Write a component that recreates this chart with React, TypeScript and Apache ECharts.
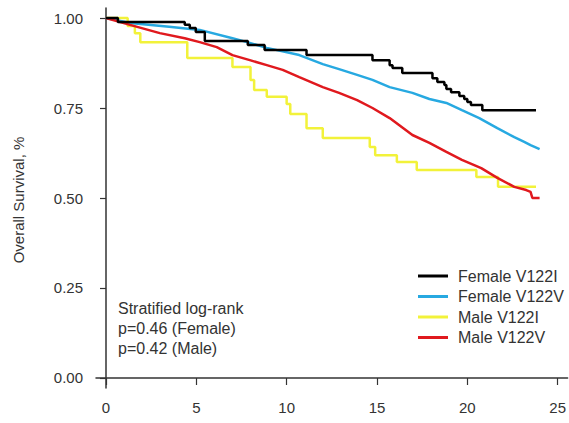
import { useEffect, useRef } from "react";
import * as echarts from "echarts";

// Series names (legend order)
const seriesNames = ["Female V122I", "Female V122V", "Male V122I", "Male V122V"];

// Female V122I (Kaplan-Meier steps)
const femaleV122ITime = [0, 0.66, 4.36, 4.64, 4.97, 5.47, 7.85, 8.78, 11.1, 14.75, 15.7, 15.86, 16.4, 18.07, 18.34, 18.73, 18.84, 19.1, 19.56, 19.83, 20.0, 20.2, 20.83, 23.8];
const femaleV122ISurv = [1.0, 0.989, 0.981, 0.972, 0.961, 0.936, 0.925, 0.911, 0.897, 0.883, 0.869, 0.861, 0.847, 0.833, 0.822, 0.814, 0.803, 0.794, 0.783, 0.775, 0.767, 0.758, 0.744, 0.744];

// Female V122V
const femaleV122VTime = [0, 1.33, 3.5, 5.19, 7.0, 7.96, 8.9, 10.7, 12.0, 12.9, 13.9, 14.75, 15.7, 16.96, 17.9, 18.84, 19.7, 20.66, 21.66, 22.6, 23.15, 23.5, 24.0];
const femaleV122VSurv = [1.0, 0.986, 0.976, 0.967, 0.944, 0.931, 0.917, 0.897, 0.872, 0.858, 0.842, 0.828, 0.808, 0.792, 0.775, 0.764, 0.744, 0.722, 0.694, 0.669, 0.656, 0.647, 0.636];

// Male V122I (Kaplan-Meier steps)
const maleV122ITime = [0, 1.2, 1.6, 1.9, 4.5, 7.0, 8.0, 8.2, 8.9, 10.0, 10.2, 11.1, 12.0, 14.6, 14.9, 16.1, 17.2, 20.5, 21.7, 23.8];
const maleV122ISurv = [1.0, 0.978, 0.958, 0.933, 0.889, 0.864, 0.828, 0.8, 0.781, 0.761, 0.733, 0.694, 0.667, 0.642, 0.619, 0.6, 0.578, 0.558, 0.531, 0.531];

// Male V122V
const maleV122VTime = [0, 1.33, 2.98, 4.36, 5.19, 6.13, 7.0, 7.96, 8.9, 9.78, 10.7, 12.0, 12.9, 13.9, 14.75, 15.7, 16.96, 17.9, 18.84, 19.7, 20.77, 21.66, 22.6, 23.26, 23.5, 23.6, 24.0];
const maleV122VSurv = [1.0, 0.981, 0.958, 0.944, 0.933, 0.919, 0.897, 0.883, 0.869, 0.856, 0.836, 0.808, 0.792, 0.772, 0.75, 0.722, 0.675, 0.653, 0.628, 0.606, 0.583, 0.556, 0.531, 0.522, 0.517, 0.5, 0.5];

// Axis ticks
const xTicks = [0, 5, 10, 15, 20, 25];
const yTicks = [0, 0.25, 0.5, 0.75, 1.0];

const annotationLines = ["Stratified log-rank", "p=0.46 (Female)", "p=0.42 (Male)"];
const yTitle = "Overall Survival, %";

const zip = (t: number[], s: number[]) => t.map((v, i) => [v, s[i]]);

const FONT = "Arial, 'Liberation Sans', sans-serif";

export default function App() {
  const ref = useRef<HTMLDivElement>(null);
  useEffect(() => {
    document.body.style.margin = "0";
    if (!ref.current) return;
    const chart = echarts.init(ref.current, null, { renderer: "svg" });
    const lineWidth = 2.5;
    chart.setOption({
      animation: false,
      backgroundColor: "#ffffff",
      grid: { left: 96, right: 0, top: 8, bottom: 35, containLabel: false },
      xAxis: {
        type: "value",
        min: -0.552,
        max: 25.55,
        axisLine: { show: true, lineStyle: { color: "#333", width: 1.5 } },
        axisTick: { show: true, length: 7, customValues: xTicks, lineStyle: { color: "#333", width: 1.2 } },
        axisLabel: {
          customValues: xTicks,
          formatter: (v: number) => String(v),
          fontSize: 15,
          fontFamily: FONT,
          color: "#333",
          margin: 12,
        },
        splitLine: { show: false },
      },
      yAxis: {
        type: "value",
        min: -0.0278,
        max: 1.0278,
        axisLine: { show: true, lineStyle: { color: "#333", width: 1.5 } },
        axisTick: { show: true, length: 6, customValues: yTicks, lineStyle: { color: "#333", width: 1.2 } },
        axisLabel: {
          customValues: yTicks,
          formatter: (v: number) => v.toFixed(2),
          fontSize: 15,
          fontFamily: FONT,
          color: "#333",
          margin: 13,
        },
        splitLine: { show: false },
      },
      legend: {
        orient: "vertical",
        left: 418,
        top: 268,
        padding: 0,
        icon: "rect",
        itemWidth: 30,
        itemHeight: 3,
        itemGap: 4.5,
        data: seriesNames,
        textStyle: { fontSize: 16, fontFamily: FONT, color: "#333", padding: [0, 0, 0, 5] },
      },
      graphic: [
        {
          type: "text",
          x: 18,
          y: 200,
          rotation: Math.PI / 2,
          style: {
            text: yTitle,
            fontSize: 15,
            fontFamily: FONT,
            fill: "#333",
            align: "center",
            verticalAlign: "middle",
          },
        },
        {
          type: "text",
          x: 118,
          y: 298,
          style: {
            text: annotationLines.join("\n"),
            fontSize: 16,
            lineHeight: 20,
            fontFamily: FONT,
            fill: "#333",
            align: "left",
            verticalAlign: "top",
          },
        },
      ],
      series: [
        {
          name: seriesNames[0],
          type: "line",
          step: "end",
          showSymbol: false,
          data: zip(femaleV122ITime, femaleV122ISurv),
          lineStyle: { color: "#000000", width: lineWidth },
          itemStyle: { color: "#000000" },
          z: 4,
        },
        {
          name: seriesNames[1],
          type: "line",
          showSymbol: false,
          data: zip(femaleV122VTime, femaleV122VSurv),
          lineStyle: { color: "#27a9e1", width: lineWidth },
          itemStyle: { color: "#27a9e1" },
          z: 3,
        },
        {
          name: seriesNames[2],
          type: "line",
          step: "end",
          showSymbol: false,
          data: zip(maleV122ITime, maleV122ISurv),
          lineStyle: { color: "#f2f23a", width: lineWidth },
          itemStyle: { color: "#f2f23a" },
          z: 2,
        },
        {
          name: seriesNames[3],
          type: "line",
          showSymbol: false,
          data: zip(maleV122VTime, maleV122VSurv),
          lineStyle: { color: "#e0191e", width: lineWidth },
          itemStyle: { color: "#e0191e" },
          z: 3,
        },
      ],
    });
    return () => chart.dispose();
  }, []);
  return <div ref={ref} style={{ width: 569, height: 423 }} />;
}
